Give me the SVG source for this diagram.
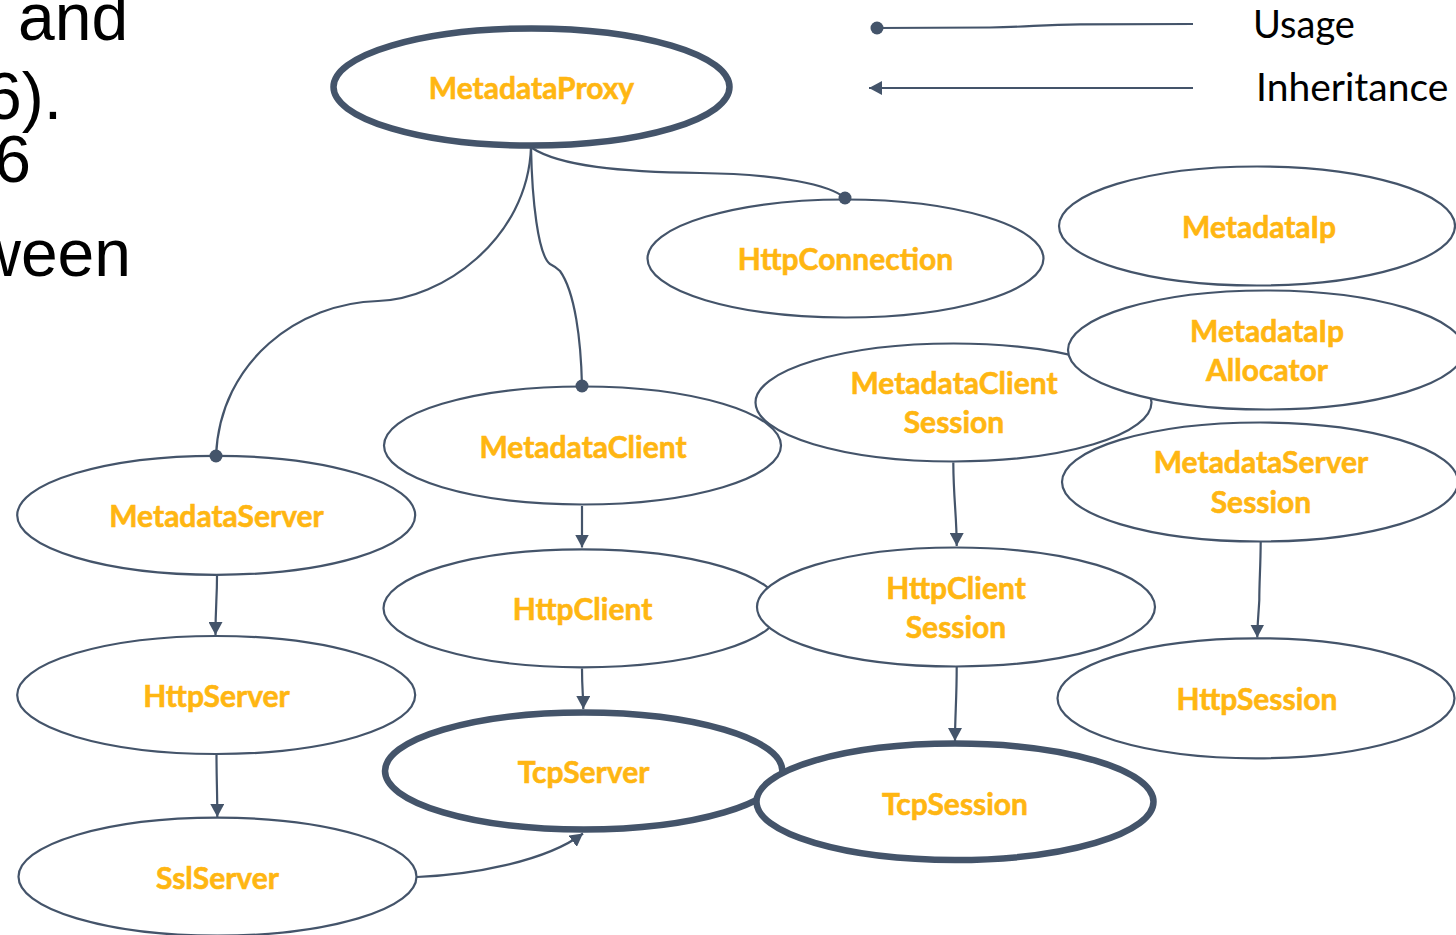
<svg xmlns="http://www.w3.org/2000/svg" width="1456" height="935" viewBox="0 0 1456 935">
  <style>
    .bg { font-family: "Liberation Sans", Arial, sans-serif; font-size: 66px; fill: #000; }
    .legend { font-family: Lato, "Open Sans", sans-serif; font-size: 38px; fill: #000; }
    .node { fill: #fff; stroke: #44546A; stroke-width: 2.2; }
    .core { fill: #fff; stroke: #44546A; stroke-width: 6.5; }
    .label { font-family: Lato, "Open Sans", sans-serif; font-weight: bold; font-size: 30px; fill: #FFB612; stroke: #FFB612; stroke-width: 0.6; text-anchor: middle; }
    .edge { fill: none; stroke: #44546A; stroke-width: 2.2; }
    .uses { marker-end: url(#dot); }
    .inherits { marker-end: url(#arrow); }
  </style>
  <defs>
    <marker id="arrow" viewBox="0 0 14 14" refX="13" refY="7" markerWidth="14" markerHeight="14" markerUnits="userSpaceOnUse" orient="auto">
      <path d="M0,0 L13,7 L0,14 z" fill="#44546A"/>
    </marker>
    <marker id="dot" viewBox="0 0 14 14" refX="7" refY="7" markerWidth="14" markerHeight="14" markerUnits="userSpaceOnUse">
      <circle cx="7" cy="7" r="6.5" fill="#44546A"/>
    </marker>
  </defs>
  <rect width="1456" height="935" fill="#fff"/>

  <!-- slide text behind the diagram -->
  <g id="slide-text">
    <text class="bg" x="18" y="40">and</text>
    <text class="bg" x="62" y="119" text-anchor="end">6).</text>
    <text class="bg" x="31" y="182" text-anchor="end">6</text>
    <text class="bg" x="131" y="276" text-anchor="end">ween</text>
  </g>

  <!-- legend -->
  <g id="legend">
    <path class="edge" d="M877 28 L990 27.5 C1030 27 1040 24.5 1080 24.3 L1193 24"/>
    <circle cx="877" cy="28" r="6.5" fill="#44546A"/>
    <text class="legend" x="1253" y="38">Usage</text>
    <path class="edge inherits" d="M1193 88 L869 88"/>
    <text class="legend" x="1256" y="101" style="font-size:39px">Inheritance</text>
  </g>

  <!-- nodes -->
  <g id="MetadataProxy">
    <ellipse class="core" cx="531.5" cy="87" rx="198" ry="58.5"/>
    <text class="label" x="531.5" y="99">MetadataProxy</text>
  </g>
  <g id="HttpConnection">
    <ellipse class="node" cx="845.5" cy="258.5" rx="198" ry="59"/>
    <text class="label" x="845.5" y="270">HttpConnection</text>
  </g>
  <g id="MetadataIp">
    <ellipse class="node" cx="1257" cy="226" rx="198" ry="59.5"/>
    <text class="label" x="1259" y="238">MetadataIp</text>
  </g>
  <g id="MetadataClientSession">
    <ellipse class="node" cx="953.5" cy="402.5" rx="198" ry="59"/>
    <text class="label" x="954" y="394">MetadataClient</text>
    <text class="label" x="954" y="432.5">Session</text>
  </g>
  <g id="MetadataIpAllocator">
    <ellipse class="node" cx="1266" cy="350" rx="198" ry="59.5"/>
    <text class="label" x="1267" y="342">MetadataIp</text>
    <text class="label" x="1267" y="381">Allocator</text>
  </g>
  <g id="MetadataServerSession">
    <ellipse class="node" cx="1260" cy="482" rx="198" ry="59.5"/>
    <text class="label" x="1261" y="473">MetadataServer</text>
    <text class="label" x="1261" y="513">Session</text>
  </g>
  <g id="MetadataClient">
    <ellipse class="node" cx="582.5" cy="445.5" rx="198.5" ry="59"/>
    <text class="label" x="583" y="457.5">MetadataClient</text>
  </g>
  <g id="MetadataServer">
    <ellipse class="node" cx="216.2" cy="515.3" rx="199" ry="59.5"/>
    <text class="label" x="216.5" y="527.3">MetadataServer</text>
  </g>
  <g id="HttpClient">
    <ellipse class="node" cx="582" cy="608.3" rx="198.5" ry="59"/>
    <text class="label" x="582.5" y="620.3">HttpClient</text>
  </g>
  <g id="HttpClientSession">
    <ellipse class="node" cx="956" cy="607" rx="199" ry="59.5"/>
    <text class="label" x="956" y="599">HttpClient</text>
    <text class="label" x="956" y="637.5">Session</text>
  </g>
  <g id="HttpSession">
    <ellipse class="node" cx="1256" cy="698.3" rx="198.5" ry="60"/>
    <text class="label" x="1257" y="710">HttpSession</text>
  </g>
  <g id="HttpServer">
    <ellipse class="node" cx="216.2" cy="695" rx="199" ry="59"/>
    <text class="label" x="216.5" y="707">HttpServer</text>
  </g>
  <g id="TcpServer">
    <ellipse class="core" cx="583.7" cy="771" rx="198.7" ry="58.5"/>
    <text class="label" x="583.5" y="783">TcpServer</text>
  </g>
  <g id="TcpSession">
    <ellipse class="core" cx="955" cy="801.8" rx="198.5" ry="58.2"/>
    <text class="label" x="955" y="815">TcpSession</text>
  </g>
  <g id="SslServer">
    <ellipse class="node" cx="217.5" cy="876.7" rx="199" ry="59"/>
    <text class="label" x="217.5" y="888.5">SslServer</text>
  </g>

  <!-- connectors -->
  <g id="connectors">
    <!-- usage -->
    <path class="edge uses" d="M531 147 C528 240 440 300 378 301 C300 303 220 360 216 456"/>
    <path class="edge uses" d="M531 147 C532 200 538 255 550 264 Q556 267 560 271 C575 292 581 340 582 386"/>
    <path class="edge uses" d="M532 148 C560 166 620 172 700 173 C780 174 830 185 845 198"/>
    <!-- inheritance -->
    <path class="edge inherits" d="M217 576 C217 600 215.5 605 215.5 635"/>
    <path class="edge inherits" d="M216.5 755 C216.5 780 217.3 790 217.3 817"/>
    <path class="edge inherits" d="M582 506 L582 547.5"/>
    <path class="edge inherits" d="M582 668.5 C582 690 583.3 695 583.3 709"/>
    <path class="edge inherits" d="M417 877 C470 875 545 862 583 833.5"/>
    <path class="edge inherits" d="M953.3 462.5 C953.5 500 956.7 515 956.7 546"/>
    <path class="edge inherits" d="M956.7 667 C956.7 700 955 715 955 741"/>
    <path class="edge inherits" d="M1260.7 542 C1260.5 570 1259.3 580 1259.3 600 C1258.5 615 1257.3 625 1257.3 637.5"/>
  </g>
</svg>
